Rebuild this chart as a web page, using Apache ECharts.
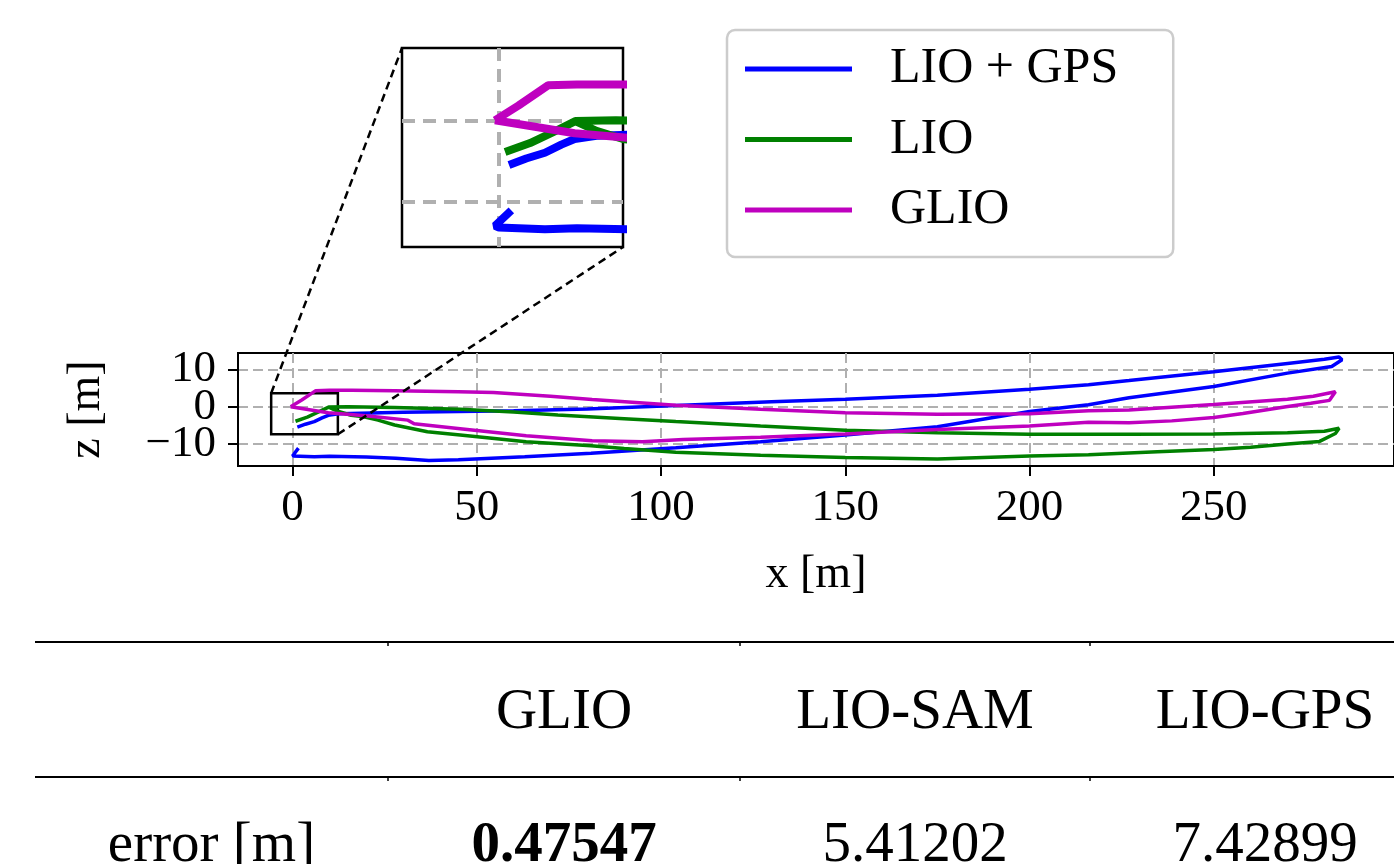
<!DOCTYPE html>
<html><head><meta charset="utf-8">
<script src="https://cdn.jsdelivr.net/npm/echarts@6/dist/echarts.min.js"></script>
<style>html,body{margin:0;padding:0;background:#fff;overflow:hidden}#c{width:1394px;height:864px}</style>
</head><body><div id="c"></div>
<script>
// ---------- data ----------
const seriesNames = ['LIO + GPS', 'LIO', 'GLIO'];
const lioGps = [[1.3,-5.5],[3.5,-4.7],[5.9,-4.0],[8,-3.0],[9.7,-2.3],[12.5,-1.9],[15.7,-1.8],[30,-1.5],[45,-1.3],[60,-1.1],[80,-0.6],[104,0.3],[130,1.3],[150,2.0],[175,3.1],[200,4.7],[216,5.9],[227,7.0],[250,9.4],[270,11.6],[280,12.7],[284,13.3],[284.8,12.6],[282,10.8],[270,9.0],[250,5.4],[227,2.4],[216,0.5],[200,-1.3],[175,-5.4],[150,-7.6],[127,-9.4],[104,-11.0],[81,-12.5],[63,-13.4],[45,-14.2],[37,-14.4],[28,-13.8],[20,-13.5],[10,-13.3],[5.9,-13.4],[0,-13.2],[-0.5,-13.0],[1.6,-11.1]];
const lio = [[0.8,-3.9],[4,-2.8],[7.5,-1.2],[9.8,-0.1],[15,0.0],[27.7,-0.2],[45.5,-0.7],[60,-1.4],[72,-2.2],[90,-3.2],[104,-4.0],[127,-5.2],[150,-6.3],[175,-7.0],[200,-7.4],[227,-7.4],[250,-7.3],[270,-7.0],[280,-6.6],[284,-5.8],[283,-7.2],[278.7,-9.3],[270,-10.0],[260,-10.9],[250,-11.5],[234.7,-12.1],[216,-12.9],[200,-13.25],[175,-14.0],[150,-13.6],[127,-13.0],[104,-12.2],[90,-11.2],[81,-10.5],[63.4,-9.4],[45.5,-7.6],[36.6,-6.7],[27.7,-4.9],[23.2,-3.6],[18.75,-2.6],[15.9,-2.3],[12.5,-1.3],[9.8,-0.1]];
const glio = [[-0.5,0.0],[2.5,1.8],[6.3,4.3],[10,4.4],[16,4.4],[27.7,4.3],[45,4.0],[54.5,3.8],[70,2.8],[81.3,1.9],[104,0.4],[127,-0.7],[150,-1.6],[175,-2.0],[200,-1.9],[216,-1.1],[227,-0.9],[250,0.6],[270,2.0],[277,2.8],[283,4.0],[281.4,1.7],[276.3,0.9],[269.6,0.0],[257.9,-1.8],[250,-2.9],[238.6,-3.8],[227,-4.3],[216,-4.2],[200,-5.2],[175,-6.1],[150,-7.3],[127,-8.2],[106,-8.8],[95,-9.4],[81.3,-9.1],[63.4,-7.8],[45.5,-5.9],[33,-4.6],[31.3,-3.6],[20.5,-2.5],[15.7,-2.1],[9.7,-1.6],[4.6,-0.8],[-0.5,0.0]];
const xTicks = [0, 50, 100, 150, 200, 250];
const yTicks = [-10, 0, 10];
const insetGridX = [0];
const insetGridY = [-10, 0];
const mainXRange = [-14.8, 298.9];
const mainYRange = [-15.9, 14.4];
const insetXRange = [-12.4, 15.9];
const insetYRange = [-15.6, 8.9];
const zoomBoxX = [-5.8, 12.3];
const zoomBoxY = [-7.4, 3.6];
const tableHeader = ['', 'GLIO', 'LIO-SAM', 'LIO-GPS'];
const tableRowLabel = 'error [m]';
const tableValues = ['0.47547', '5.41202', '7.42899'];
const bestIndex = 0;

// ---------- styles ----------
const colors = ['#0000ff', '#008000', '#bf00bf'];
const FONT = 'Liberation Serif';
const minus = v => String(v).replace('-', '\u2212');
// y tick labels are split over two co-located axes so that ECharts' min/max overlap check keeps all of them
const yTicksA = yTicks.filter((v, i) => i % 2 === 0);
const yTicksB = yTicks.filter((v, i) => i % 2 === 1);

const chart = echarts.init(document.getElementById('c'), null, {renderer: 'canvas'});

const datasets = [lioGps, lio, glio];
const mainSeries = datasets.map((d, i) => ({
  name: seriesNames[i], type: 'line', xAxisIndex: 0, yAxisIndex: 0,
  data: d, symbol: 'none', showSymbol: false, clip: true, z: 3 + i,
  lineStyle: {color: colors[i], width: 3.5}, itemStyle: {color: colors[i]}
}));
mainSeries[0].markArea = {
  silent: true,
  itemStyle: {color: 'rgba(0,0,0,0)', borderColor: '#000', borderWidth: 2.5},
  data: [[{coord: [zoomBoxX[0], zoomBoxY[1]]}, {coord: [zoomBoxX[1], zoomBoxY[0]]}]]
};
const insetSeries = datasets.map((d, i) => ({
  name: seriesNames[i], type: 'line', xAxisIndex: 1, yAxisIndex: 1,
  data: d, symbol: 'none', showSymbol: false, clip: true, z: 13 + i,
  lineStyle: {color: colors[i], width: 8}, itemStyle: {color: colors[i]}
}));

const insetSplit = {show: true, lineStyle: {color: '#b0b0b0', width: 4, type: [13, 8]}};
const mainSplit = {show: true, lineStyle: {color: '#b0b0b0', width: 2, type: [10, 5]}};
const mainYAxis = (ticks, withName) => ({
  gridIndex: 0, type: 'value', min: mainYRange[0], max: mainYRange[1], position: 'left', offset: 0,
  name: withName ? 'z [m]' : '', nameLocation: 'middle', nameGap: 128, nameRotate: 90,
  nameTextStyle: {fontSize: 46, color: '#000', fontFamily: FONT},
  axisLine: {show: true, onZero: false, lineStyle: {color: '#000', width: 2}},
  axisTick: {show: true, inside: false, length: 10, customValues: ticks, lineStyle: {color: '#000', width: 2}},
  axisLabel: {show: true, color: '#000', margin: 22, hideOverlap: false, customValues: ticks,
              showMinLabel: true, showMaxLabel: true, fontSize: 45, fontFamily: FONT, formatter: minus},
  splitLine: mainSplit
});

const option = {
  animation: false,
  backgroundColor: '#fff',
  textStyle: {fontFamily: FONT},
  grid: [
    {left: 238, top: 353, width: 1171, height: 113, show: true, borderColor: '#000', borderWidth: 2, backgroundColor: 'rgba(0,0,0,0)'},
    {left: 402, top: 48, width: 221, height: 199, show: true, borderColor: '#000', borderWidth: 2.5, backgroundColor: '#fff'}
  ],
  xAxis: [
    {gridIndex: 0, type: 'value', min: mainXRange[0], max: mainXRange[1],
     name: 'x [m]', nameLocation: 'middle', nameGap: 86,
     nameTextStyle: {fontSize: 46, color: '#000', fontFamily: FONT},
     axisLine: {show: true, onZero: false, lineStyle: {color: '#000', width: 2}},
     axisTick: {show: true, inside: false, length: 10, customValues: xTicks, lineStyle: {color: '#000', width: 2}},
     axisLabel: {show: true, fontSize: 45, color: '#000', fontFamily: FONT, margin: 20, hideOverlap: false,
                 showMinLabel: true, showMaxLabel: true, customValues: xTicks, formatter: minus},
     splitLine: mainSplit},
    {gridIndex: 1, type: 'value', min: insetXRange[0], max: insetXRange[1],
     axisLine: {show: false},
     axisTick: {show: false, customValues: insetGridX},
     axisLabel: {show: false, customValues: insetGridX},
     splitLine: insetSplit}
  ],
  yAxis: [
    mainYAxis(yTicksA, true),
    {gridIndex: 1, type: 'value', min: insetYRange[0], max: insetYRange[1],
     axisLine: {show: false},
     axisTick: {show: false, customValues: insetGridY},
     axisLabel: {show: false, customValues: insetGridY},
     splitLine: insetSplit},
    mainYAxis(yTicksB, false)
  ],
  legend: {
    data: seriesNames, orient: 'vertical', left: 727, top: 30,
    icon: 'rect', itemWidth: 107, itemHeight: 5, itemGap: 20.5,
    padding: [14, 55, 22, 18],
    backgroundColor: '#fff', borderColor: '#cccccc', borderWidth: 2.5, borderRadius: 8,
    textStyle: {fontSize: 50, color: '#000', fontFamily: FONT, lineHeight: 50, padding: [0, 0, 0, 33]},
    selectedMode: false
  },
  series: mainSeries.concat(insetSeries)
};
chart.setOption(option);

// connector lines from zoom box to inset, and the results table
const p1 = chart.convertToPixel({gridIndex: 0}, [zoomBoxX[0], zoomBoxY[1]]);
const p2 = chart.convertToPixel({gridIndex: 0}, [zoomBoxX[1], zoomBoxY[0]]);
const q1 = chart.convertToPixel({gridIndex: 1}, [insetXRange[0], insetYRange[1]]);
const q2 = chart.convertToPixel({gridIndex: 1}, [insetXRange[1], insetYRange[0]]);
const dash = {stroke: '#000', lineWidth: 2.5, lineDash: [8, 5]};

const colEdges = [35, 388, 740, 1090, 1440];
const tableTop = 642, tableMid = 777, headerY = 713, rowY = 846;
const colCenter = i => (colEdges[i] + colEdges[i + 1]) / 2;
const txt = (s, x, y, bold) => ({
  type: 'text', x: x, y: y, z: 100, silent: true,
  style: {text: s, fontSize: 57, fontFamily: FONT, fontWeight: bold ? 'bold' : 'normal', fill: '#000',
          align: 'center', verticalAlign: 'middle', textAlign: 'center', textVerticalAlign: 'middle'}
});
const hline = y => ({type: 'line', z: 100, silent: true, shape: {x1: colEdges[0], y1: y, x2: 1394, y2: y}, style: {stroke: '#000', lineWidth: 2.2}});
const mark = (x, y) => ({type: 'line', z: 100, silent: true, shape: {x1: x, y1: y, x2: x, y2: y + 4}, style: {stroke: '#000', lineWidth: 1.5}});

const graphics = [
  {type: 'line', z: 50, silent: true, shape: {x1: p1[0], y1: p1[1], x2: q1[0], y2: q1[1]}, style: dash},
  {type: 'line', z: 50, silent: true, shape: {x1: p2[0], y1: p2[1], x2: q2[0], y2: q2[1]}, style: dash},
  hline(tableTop), hline(tableMid)
];
for (let i = 1; i < colEdges.length - 1; i++) { graphics.push(mark(colEdges[i], tableTop)); graphics.push(mark(colEdges[i], tableMid)); }
tableHeader.forEach((h, i) => { if (h) graphics.push(txt(h, colCenter(i), headerY, false)); });
graphics.push(txt(tableRowLabel, colCenter(0), rowY, false));
tableValues.forEach((v, i) => graphics.push(txt(v, colCenter(i + 1), rowY, i === bestIndex)));
chart.setOption({graphic: graphics});
</script></body></html>
